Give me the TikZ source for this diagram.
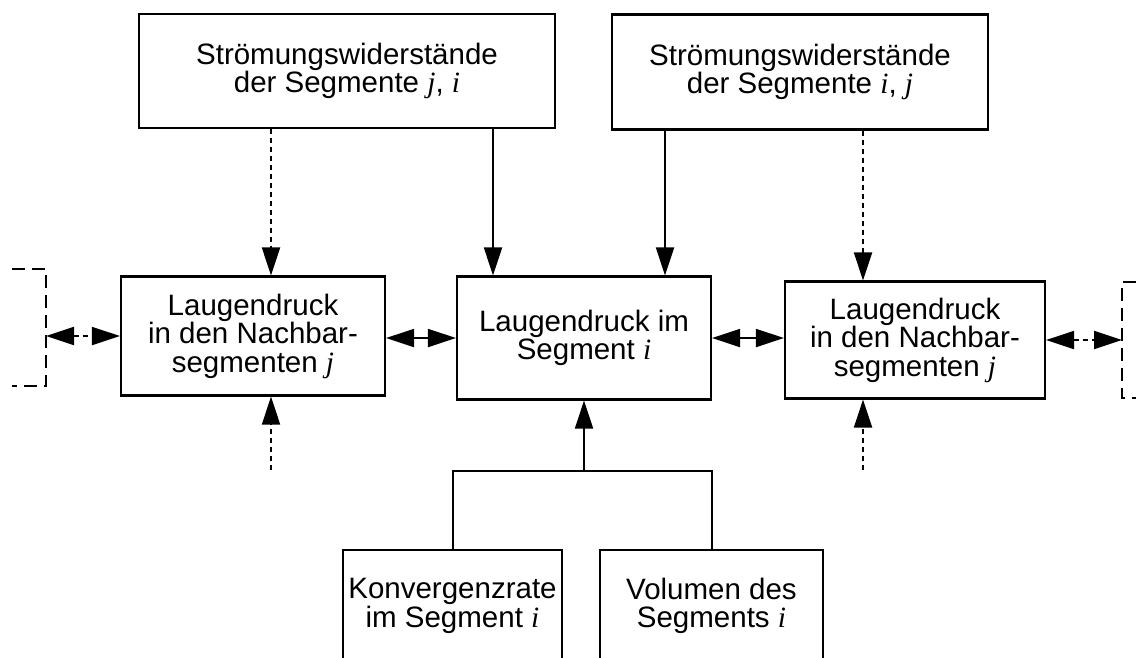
\documentclass[tikz,border=0pt]{standalone}
\usepackage{fontspec}
\setmainfont{Liberation Sans}
\newfontfamily\varfont{Liberation Serif}
\usetikzlibrary{arrows.meta,calc}

% italic segment indices
\newcommand\vv[1]{{\varfont\itshape #1}}

\begin{document}
\begin{tikzpicture}[x=1pt,y=-1pt,
  box/.style={draw, line width=2.2pt, align=center, inner sep=0pt,
    font=\fontsize{29.5}{28.5}\selectfont},
  tip/.tip={Triangle[length=28pt,width=18pt]},
  flow/.style={line width=2pt, -tip},
  dflow/.style={line width=2pt, -tip, dash pattern=on 5pt off 4pt},
  both/.style={line width=2pt, tip-tip},
  dboth/.style={line width=2pt, tip-tip, dash pattern=on 5pt off 4pt},
  bracket/.style={line width=1.8pt, dash pattern=on 13pt off 7pt},
  tree/.style={line width=2pt}
]
\useasboundingbox (0,0) rectangle (1141,657);
\clip (0,0) rectangle (1141,657);

% resistance boxes
\node[box, minimum width=416pt, minimum height=114pt] (TL) at (347,71)
  {Strömungswiderstände\\der Segmente \vv{j}, \vv{i}};
\node[box, minimum width=376pt, minimum height=115pt] (TR) at (800,72)
  {Strömungswiderstände\\der Segmente \vv{i}, \vv{j}};

% pressure boxes
\node[box, minimum width=264pt, minimum height=119pt] (ML) at (253,336)
  {Laugendruck\\in den Nachbar-\\segmenten \vv{j}};
\node[box, minimum width=254pt, minimum height=123pt] (MC) at (584,338)
  {Laugendruck im\\Segment \vv{i}};
\node[box, minimum width=260pt, minimum height=117pt] (MR) at (915,340)
  {Laugendruck\\in den Nachbar-\\segmenten \vv{j}};

% source boxes at the bottom
\node[box, minimum width=219pt, minimum height=112pt] (BL) at (452.5,606)
  {Konvergenzrate\\im Segment \vv{i}};
\node[box, minimum width=223pt, minimum height=112pt] (BR) at (711.5,606)
  {Volumen des\\Segments \vv{i}};

% open neighbours (dashed brackets)
\coordinate (lbt) at (46,269);
\coordinate (lbb) at (46,386);
\draw[bracket] (12,269) -- (lbt) -- (lbb) -- (12,386);
\coordinate (rbt) at (1122,282);
\coordinate (rbb) at (1122,398);
\draw[bracket] (1136,282) -- (rbt) -- (rbb) -- (1136,398);

% resistances to pressures
\draw[dflow] ([xshift=18pt]ML.north |- TL.south) -- ([xshift=18pt]ML.north);
\draw[flow] ([xshift=-91pt]MC.north |- TL.south) -- ([xshift=-91pt]MC.north);
\draw[flow] ([xshift=81pt]MC.north |- TR.south) -- ([xshift=81pt]MC.north);
\draw[dflow] ([xshift=-52pt]MR.north |- TR.south) -- ([xshift=-52pt]MR.north);

% exchange between segments
\draw[dboth] (lbt |- ML.west) -- (ML.west);
\draw[both] (MC.west -| ML.east) -- (MC.west);
\draw[both] (MC.east) -- (MC.east -| MR.west);
\draw[dboth] (MR.east) -- (MR.east -| rbt);

% further inputs from below
\coordinate (lin) at ([xshift=18pt]ML.south |- 0,470);
\coordinate (rin) at ([xshift=-52pt]MR.south |- 0,470);
\draw[dflow] (lin) -- (lin |- ML.south);
\draw[dflow] (rin) -- (rin |- MR.south);

% convergence and volume to the centre pressure
\coordinate (join) at (MC.south |- 0,471);
\draw[tree] (BL.north) |- (join) -| (BR.north);
\draw[flow] (join) -- (MC.south);
\end{tikzpicture}
\end{document}
